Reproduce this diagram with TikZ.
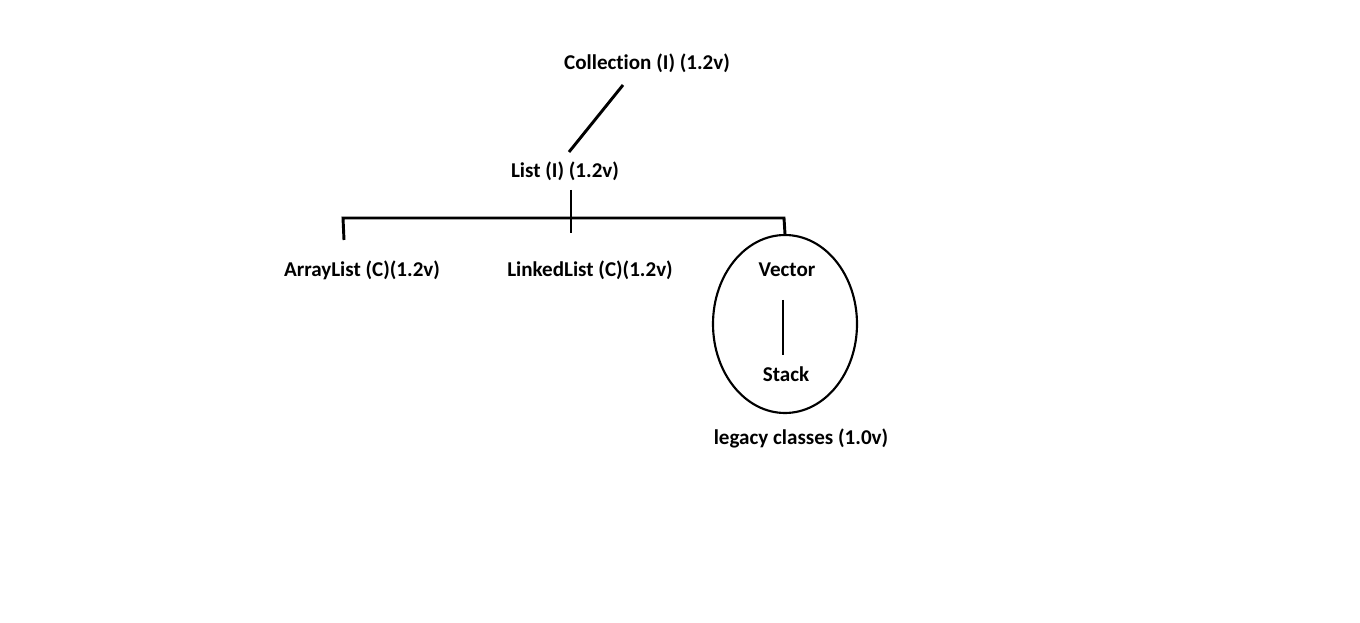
\documentclass[tikz,border=0pt]{standalone}
\usepackage{fontspec}
\setmainfont{Carlito}[Ligatures=NoCommon]
\usetikzlibrary{shapes.geometric}
\begin{document}
\begin{tikzpicture}[x=0.75pt,y=-0.75pt,
  lbl/.style={font=\bfseries\fontsize{15.8pt}{18pt}\selectfont, inner sep=0pt, anchor=center},
  conn/.style={line width=2.2pt},
  ellline/.style={line width=1.6pt}]
\useasboundingbox (0,0) rectangle (1360,623);
\node[lbl] (coll) at (647,63) {Collection (I) (1.2v)};
\node[lbl] (list) at (565,171) {List (I) (1.2v)};
\node[lbl] (al) at (362,270) {ArrayList (C)(1.2v)};
\node[lbl] (ll) at (590,270) {LinkedList (C)(1.2v)};
\node[draw, ellline, ellipse, minimum width=108pt, minimum height=133.5pt, inner sep=0pt] (ell) at (785,324) {};
\node[lbl] (vec) at (787,270) {Vector};
\node[lbl] (stk) at (786,374) {Stack};
\node[lbl] (leg) at (801,438) {legacy classes (1.0v)};
\coordinate (c1) at (623,85);
\coordinate (c2) at (569,152);
\coordinate (bl) at (343,218);
\coordinate (br) at (784,218);
\coordinate (lt) at (571,190);
\coordinate (ld) at (571,233);
\coordinate (al1) at (344,240);
\coordinate (v1) at (783,300);
\coordinate (v2) at (783,355);
\draw[conn] (c1) -- (c2);
\draw[conn] (lt) -- (ld);
\draw[conn] (al1) -- (bl) -- (br) -- (ell.north);
\draw[conn] (v1) -- (v2);
\end{tikzpicture}
\end{document}
